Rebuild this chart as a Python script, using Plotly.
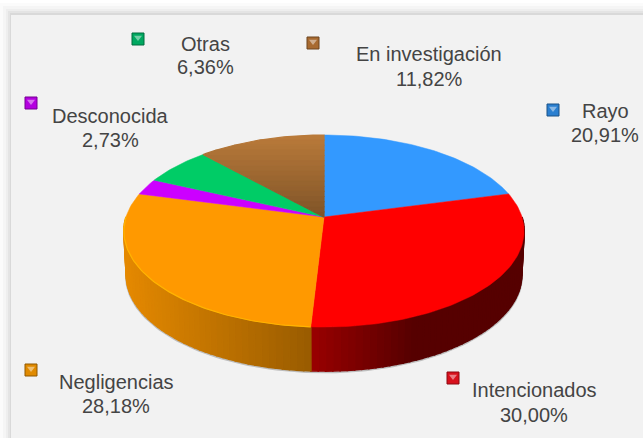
import math
import plotly.graph_objects as go

categories = ["Rayo", "Intencionados", "Negligencias", "Desconocida", "Otras", "En investigación"]
values = [20.91, 30.00, 28.18, 2.73, 6.36, 11.82]
value_labels = ["20,91%", "30,00%", "28,18%", "2,73%", "6,36%", "11,82%"]
top_colors = ["#3399ff", "#ff0000", "#ff9900", "#cc00ff", "#00cc66", "#b97a3a"]

W, H = 643, 438
CX, CY, R, B, K = 324.0, 217.0, 198.0, 94.0, 0.146
DEPTH = 44.0
name_pos = [(605, 111), (534, 390), (116, 382), (110, 116), (205, 44), (429, 54)]
value_pos = [(605, 135), (534, 415), (116, 406), (110, 140), (205, 67), (429, 79)]
key_pos = [(553, 110), (453, 378), (31, 370), (31, 103), (138, 39), (313, 43)]
key_colors = ["#2a7fd0", "#d8101c", "#e08a00", "#b400e0", "#00a860", "#a86a30"]


def proj(frac, r=1.0, drop=0.0):
    a = 2 * math.pi * frac
    u, v = r * math.sin(a), r * math.cos(a)
    d = 1 + K * v
    s = 1 - 0.012 * (drop > 0)
    return CX + R * s * u / d, CY - B * v / d + drop


def shade(hex_color, f):
    r, g, b = (int(hex_color[i:i + 2], 16) for i in (1, 3, 5))
    return f"rgb({int(r * f)},{int(g * f)},{int(b * f)})"


def poly(fig, pts, color, line=0.6):
    xs = [p[0] for p in pts] + [pts[0][0]]
    ys = [p[1] for p in pts] + [pts[0][1]]
    fig.add_trace(go.Scatter(x=xs, y=ys, mode="lines", fill="toself", fillcolor=color,
                             line=dict(color=color, width=line), hoverinfo="skip", showlegend=False))


def clip_band(pts, y0, y1):
    def clip(pts, keep, cross):
        out = []
        for i, p in enumerate(pts):
            q = pts[(i + 1) % len(pts)]
            if keep(p):
                out.append(p)
            if keep(p) != keep(q):
                out.append(cross(p, q))
        return out

    def at(yc):
        return lambda p, q: (p[0] + (q[0] - p[0]) * (yc - p[1]) / (q[1] - p[1]), yc)

    pts = clip(pts, lambda p: p[1] >= y0, at(y0))
    if pts:
        pts = clip(pts, lambda p: p[1] <= y1, at(y1))
    return pts


def side_factor(x):
    t = (x - 123) / 402.0
    if t < 0.47:
        return 0.90 - 0.30 * t / 0.47
    return max(0.34, 0.60 - 0.26 * (t - 0.47) / 0.25)


fig = go.Figure()
total = sum(values)
edges = [0.0]
for val in values:
    edges.append(edges[-1] + val / total)

# soft shadow below the rim
rim = [proj(0.25 + 0.5 * i / 120, 1.0, DEPTH + 1.0) for i in range(121)]
fig.add_trace(go.Scatter(x=[p[0] for p in rim], y=[p[1] for p in rim], mode="lines",
                         line=dict(color="#bdbdbd", width=2.5), hoverinfo="skip", showlegend=False))

# side wall, visible front half only
for i, color in enumerate(top_colors):
    f0, f1 = max(edges[i], 0.25), min(edges[i + 1], 0.75)
    if f1 <= f0:
        continue
    n = max(2, int((f1 - f0) * 200))
    for j in range(n):
        a = f0 + (f1 - f0) * j / n
        b = f0 + (f1 - f0) * (j + 1) / n
        pts = [proj(a), proj(b), proj(b, 1.0, DEPTH), proj(a, 1.0, DEPTH)]
        poly(fig, pts, shade(color, side_factor((pts[0][0] + pts[1][0]) / 2)), 1.6)

# top face
for i, color in enumerate(top_colors):
    n = max(4, int(values[i] * 3))
    arc = [proj(edges[i] + (edges[i + 1] - edges[i]) * j / n) for j in range(n + 1)]
    wedge = [(CX, CY)] + arc
    if categories[i] == "En investigación":
        steps = 16
        y_top, y_bot = min(p[1] for p in wedge), max(p[1] for p in wedge)
        for s in range(steps):
            y0 = y_top + (y_bot - y_top) * s / steps
            y1 = y_top + (y_bot - y_top) * (s + 1) / steps
            band = clip_band(wedge, y0, y1)
            if len(band) > 2:
                poly(fig, band, shade(color, 1.0 - 0.30 * s / (steps - 1)), 1.2)
    else:
        poly(fig, wedge, color, 0.5)

# thin bright rim on the front of the top face
for i, color in enumerate(top_colors):
    f0, f1 = max(edges[i], 0.25), min(edges[i + 1], 0.75)
    if f1 > f0 and color == "#ff9900":
        pts = [proj(f0 + (f1 - f0) * j / 80) for j in range(81)]
        fig.add_trace(go.Scatter(x=[p[0] for p in pts], y=[p[1] for p in pts], mode="lines",
                                 line=dict(color="#ffb400", width=1.2), hoverinfo="skip", showlegend=False))

# legend keys
for (kx, ky), kc in zip(key_pos, key_colors):
    fig.add_trace(go.Scatter(x=[kx], y=[ky], mode="markers", hoverinfo="skip", showlegend=False,
                             marker=dict(symbol="square", size=12, color=kc,
                                         line=dict(color=shade(kc, 0.65), width=1))))
    fig.add_trace(go.Scatter(x=[kx], y=[ky - 1.5], mode="markers", hoverinfo="skip", showlegend=False,
                             marker=dict(symbol="triangle-down", size=7, color="rgba(255,255,255,0.45)")))

label_font = dict(family="Liberation Sans", size=20, color="#444444")
annotations = []
for text_list, pos_list in ((categories, name_pos), (value_labels, value_pos)):
    for text, (x, y) in zip(text_list, pos_list):
        annotations.append(dict(x=x, y=y, xref="x", yref="y", text=text, showarrow=False,
                                font=label_font, xanchor="center", yanchor="middle"))

# frame: soft grey band fading out to the outside
frame = [(0, "#fbfbfb"), (3, "#f5f5f5"), (6, "#eeeeee"), (8, "#e4e4e4"), (10, "#d9d9d9")]
shapes = []
for off, col in frame:
    shapes.append(dict(type="rect", xref="x", yref="y", x0=off, y0=off + 3, x1=W + 5, y1=H + 5,
                       fillcolor=col, line=dict(width=0), layer="below"))
shapes.append(dict(type="rect", xref="x", yref="y", x0=11, y0=15, x1=W + 5, y1=H + 5,
                   fillcolor="#f2f2f2", line=dict(width=0), layer="below"))

fig.update_layout(
    width=W, height=H, margin=dict(l=0, r=0, t=0, b=0), autosize=False,
    paper_bgcolor="#ffffff", plot_bgcolor="#ffffff", showlegend=False,
    xaxis=dict(range=[0, W], visible=False, fixedrange=True),
    yaxis=dict(range=[H, 0], visible=False, fixedrange=True),
    annotations=annotations, shapes=shapes,
)
fig.write_html("out.html", config={"displayModeBar": False},
               post_script="document.body.style.margin='0';document.body.style.overflow='hidden';")
